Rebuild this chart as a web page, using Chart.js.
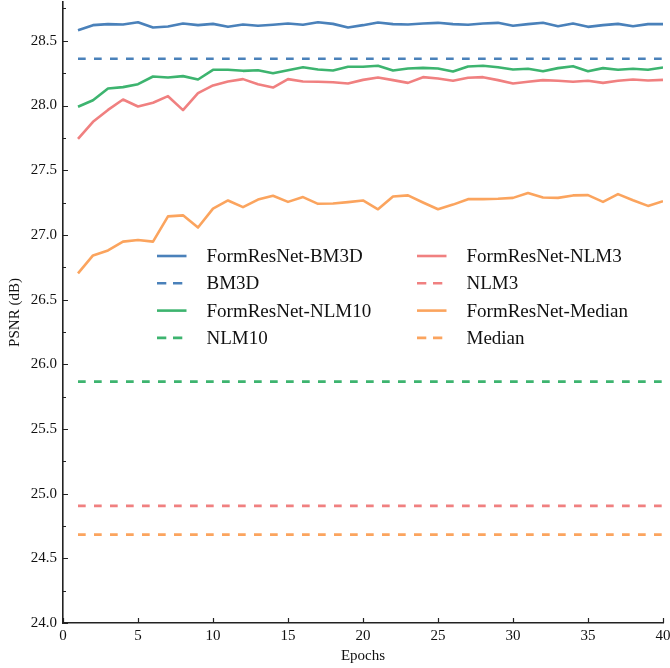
<!DOCTYPE html>
<html>
<head>
<meta charset="utf-8">
<script src="https://cdn.jsdelivr.net/npm/chart.js@4/dist/chart.umd.min.js"></script>
<style>
  html, body { margin: 0; padding: 0; background: #ffffff; }
  #wrap { width: 670px; height: 668px; }
</style>
</head>
<body>
<div id="wrap"><canvas id="psnr"></canvas></div>
<script>
// Training epochs
const epochs = [1,2,3,4,5,6,7,8,9,10,11,12,13,14,15,16,17,18,19,20,
                21,22,23,24,25,26,27,28,29,30,31,32,33,34,35,36,37,38,39,40];

// PSNR (dB) per epoch for each FormResNet variant
const formResNetBM3D = [28.582,28.621,28.629,28.626,28.644,28.603,28.611,28.634,28.621,28.631,
                        28.608,28.626,28.616,28.624,28.634,28.624,28.644,28.631,28.603,28.621,
                        28.642,28.629,28.626,28.634,28.639,28.629,28.624,28.634,28.639,28.616,
                        28.629,28.639,28.613,28.634,28.608,28.621,28.631,28.613,28.629,28.629];
const formResNetNLM10 = [27.990,28.041,28.131,28.142,28.165,28.224,28.216,28.227,28.201,28.276,
                         28.276,28.268,28.273,28.250,28.273,28.296,28.278,28.271,28.299,28.299,
                         28.307,28.271,28.286,28.291,28.286,28.263,28.302,28.307,28.296,28.278,
                         28.284,28.265,28.289,28.304,28.265,28.289,28.276,28.284,28.276,28.294];
const formResNetNLM3 = [27.742,27.874,27.966,28.046,27.992,28.021,28.072,27.964,28.095,28.155,
                        28.186,28.204,28.165,28.139,28.204,28.186,28.183,28.180,28.170,28.198,
                        28.216,28.196,28.175,28.219,28.209,28.191,28.214,28.219,28.196,28.170,
                        28.183,28.196,28.191,28.183,28.191,28.175,28.191,28.201,28.193,28.198];
const formResNetMedian = [26.703,26.841,26.880,26.948,26.961,26.948,27.143,27.151,27.057,27.203,
                          27.266,27.214,27.273,27.302,27.255,27.292,27.240,27.242,27.253,27.266,
                          27.198,27.297,27.305,27.250,27.198,27.234,27.276,27.276,27.279,27.286,
                          27.323,27.289,27.286,27.305,27.307,27.255,27.315,27.268,27.224,27.260];

// Baseline denoisers (constant PSNR)
const baselineNames = ['BM3D', 'NLM10', 'NLM3', 'Median'];
const baselineValues = [28.361, 25.866, 24.905, 24.683];

// Axis ticks
const xTicks = [0, 5, 10, 15, 20, 25, 30, 35, 40];
const yTicks = [24.0, 24.5, 25.0, 25.5, 26.0, 26.5, 27.0, 27.5, 28.0, 28.5];
const yMinorTicks = [24.25, 24.75, 25.25, 25.75, 26.25, 26.75, 27.25, 27.75, 28.25, 28.75];

const COLORS = {
  blue: '#4a81ba',
  green: '#3db46f',
  red: '#f08080',
  orange: '#fba45e'
};
const SERIF = '"Liberation Serif", "Times New Roman", serif';
const PLOT_DASH = [7.7, 8.3];
const LEGEND_DASH = [9.3, 6.7];

function pts(values) {
  return values.map((v, i) => ({ x: epochs[i], y: v }));
}
function flat(value) {
  return [{ x: epochs[0], y: value }, { x: epochs[epochs.length - 1], y: value }];
}
function solid(label, values, color) {
  return { label, data: pts(values), borderColor: color, backgroundColor: color,
           borderWidth: 2.6, pointRadius: 0, tension: 0, borderJoinStyle: 'round', dashed: false };
}
function dashed(label, value, color) {
  return { label, data: flat(value), borderColor: color, backgroundColor: color,
           borderWidth: 2.6, pointRadius: 0, tension: 0, borderDash: PLOT_DASH,
           borderCapStyle: 'butt', dashed: true };
}

const datasets = [
  solid('FormResNet-BM3D', formResNetBM3D, COLORS.blue),
  dashed(baselineNames[0], baselineValues[0], COLORS.blue),
  solid('FormResNet-NLM10', formResNetNLM10, COLORS.green),
  dashed(baselineNames[1], baselineValues[1], COLORS.green),
  solid('FormResNet-NLM3', formResNetNLM3, COLORS.red),
  dashed(baselineNames[2], baselineValues[2], COLORS.red),
  solid('FormResNet-Median', formResNetMedian, COLORS.orange),
  dashed(baselineNames[3], baselineValues[3], COLORS.orange)
];

// Inward-pointing tick marks on the left and bottom axes
const inwardTicks = {
  id: 'inwardTicks',
  afterDraw(chart) {
    const { ctx, chartArea: a, scales: { x, y } } = chart;
    ctx.save();
    ctx.strokeStyle = '#222';
    ctx.lineWidth = 1.2;
    ctx.beginPath();
    yTicks.forEach(v => {
      const py = Math.round(y.getPixelForValue(v)) + 0.5;
      ctx.moveTo(a.left, py); ctx.lineTo(a.left + 5, py);
    });
    yMinorTicks.forEach(v => {
      const py = Math.round(y.getPixelForValue(v)) + 0.5;
      ctx.moveTo(a.left, py); ctx.lineTo(a.left + 3, py);
    });
    xTicks.forEach(v => {
      const px = Math.round(x.getPixelForValue(v)) + 0.5;
      ctx.moveTo(px, a.bottom); ctx.lineTo(px, a.bottom - 5);
    });
    ctx.stroke();
    ctx.restore();
  }
};

// Two-column legend placed inside the plot area
const columnLegend = {
  id: 'columnLegend',
  afterDraw(chart) {
    const { ctx, chartArea: a } = chart;
    const cols = [a.left + 94, a.left + 354];
    const rowTop = a.top + 254;
    const rowGap = 27.3;
    const handle = 29.5;
    ctx.save();
    ctx.font = '19px ' + SERIF;
    ctx.textBaseline = 'middle';
    ctx.fillStyle = '#111';
    chart.data.datasets.forEach((ds, i) => {
      const col = Math.floor(i / 4);
      const row = i % 4;
      const x0 = cols[col];
      const yy = rowTop + row * rowGap;
      ctx.beginPath();
      ctx.strokeStyle = ds.borderColor;
      ctx.lineWidth = 2.6;
      ctx.lineCap = 'butt';
      ctx.setLineDash(ds.dashed ? LEGEND_DASH : []);
      ctx.moveTo(x0, yy); ctx.lineTo(x0 + handle, yy);
      ctx.stroke();
      ctx.setLineDash([]);
      ctx.fillText(ds.label, x0 + 49.5, yy + 1);
    });
    ctx.restore();
  }
};

new Chart(document.getElementById('psnr'), {
  type: 'line',
  data: { datasets },
  options: {
    responsive: true,
    maintainAspectRatio: false,
    animation: false,
    devicePixelRatio: 1,
    layout: { autoPadding: false, padding: { top: 2, right: 7, left: 0, bottom: 0 } },
    plugins: { legend: { display: false }, tooltip: { enabled: false } },
    scales: {
      x: {
        type: 'linear',
        min: 0, max: 40,
        afterBuildTicks: s => { s.ticks = xTicks.map(v => ({ value: v })); },
        afterFit: s => { s.height = 45; s.paddingLeft = 0; s.paddingRight = 0; },
        ticks: { font: { family: SERIF, size: 15 }, color: '#111', padding: 4, maxRotation: 0 },
        grid: { display: true, drawOnChartArea: false, drawTicks: false },
        border: { display: true, color: '#222', width: 1.6 },
        title: { display: true, text: 'Epochs', font: { family: SERIF, size: 15 }, color: '#111', padding: 3 }
      },
      y: {
        type: 'linear',
        min: 24.0, max: 28.8,
        afterBuildTicks: s => { s.ticks = yTicks.map(v => ({ value: v })); },
        afterFit: s => { s.width = 63; s.paddingTop = 0; s.paddingBottom = 0; },
        ticks: { font: { family: SERIF, size: 15 }, color: '#111', padding: 6,
                 callback: v => Number(v).toFixed(1) },
        grid: { display: true, drawOnChartArea: false, drawTicks: false },
        border: { display: true, color: '#222', width: 1.6 },
        title: { display: true, text: 'PSNR (dB)', font: { family: SERIF, size: 15 }, color: '#111', padding: 6 }
      }
    }
  },
  plugins: [inwardTicks, columnLegend]
});
</script>
</body>
</html>
